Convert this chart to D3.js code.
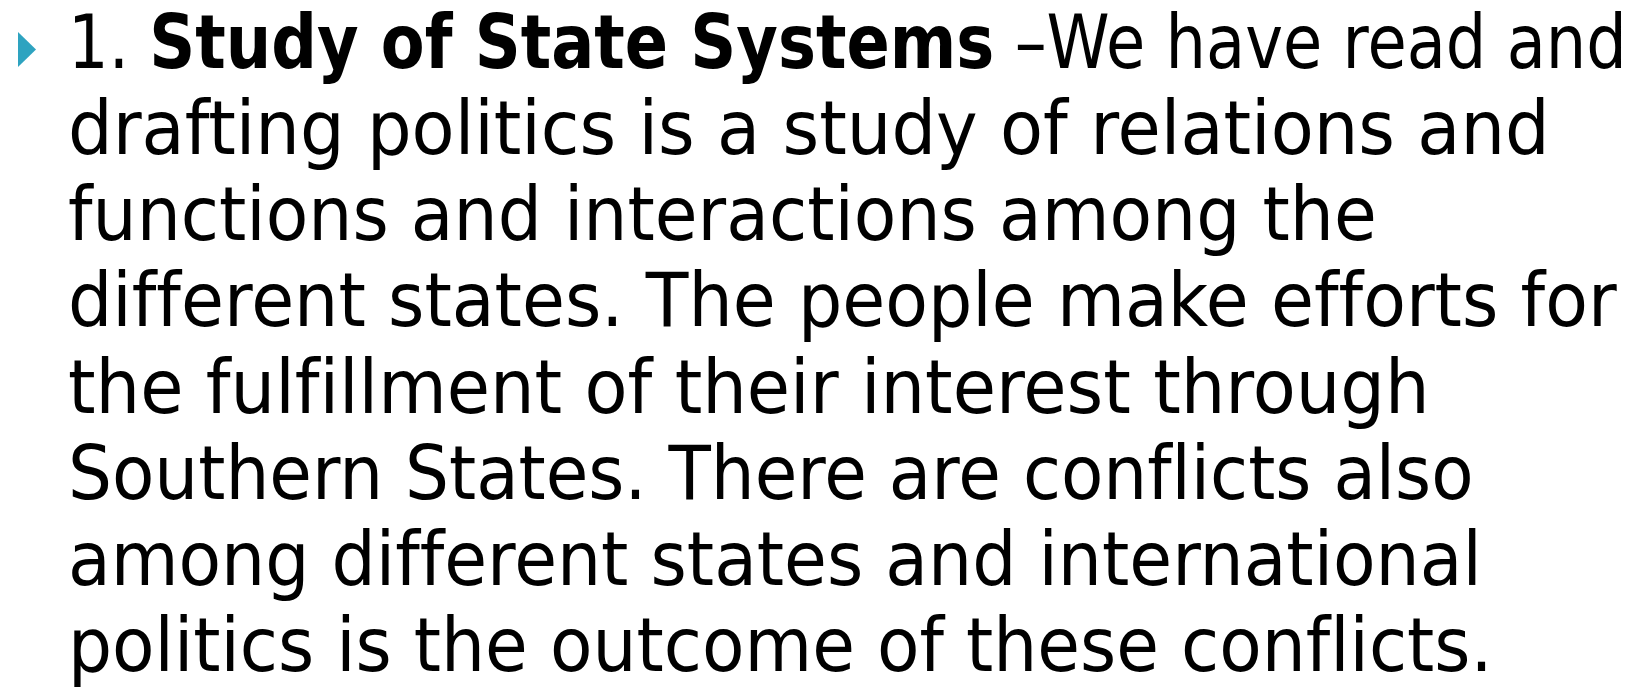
<!DOCTYPE html>
<html><head><meta charset="utf-8">
<script src="https://cdn.jsdelivr.net/npm/d3@7"></script>
<style>html,body{margin:0;padding:0;background:#fff;} text{font-variant-ligatures:none;font-feature-settings:"liga" 0,"clig" 0;}</style>
</head><body>
<script>
// Slide text content
const boldLead = ["1. ", "Study of State Systems", " \u2013We have read and"];
const lines = [
  "drafting politics is a study of relations and",
  "functions and interactions among the",
  "different states. The people make efforts for",
  "the fulfillment of their interest through",
  "Southern States. There are conflicts also",
  "among different states and international",
  "politics is the outcome of these conflicts."
];
// measured right edges of each line (px)
const lineEnds = [1627, 1550, 1377, 1617, 1430, 1474, 1482, 1493];

const W = 1640, H = 688;
const svg = d3.select("body").append("svg").attr("width", W).attr("height", H);
const y = d3.scaleLinear().domain([0, 7]).range([68, 671]);
const left = 68;
const font = "'DejaVu Sans', sans-serif";
const fs = 74;

// bullet
svg.append("path")
  .attr("d", `M18,32 L36,49.5 L18,67 Z`)
  .attr("fill", "#2ea3c0");

function fit(sel, target) {
  const w = sel.node().getComputedTextLength();
  const sx = target / w;
  sel.attr("transform", `translate(${left},${sel.attr("data-y")}) scale(${sx},1)`);
}

const t0 = svg.append("text")
  .attr("x", 0).attr("y", 0).attr("data-y", y(0))
  .attr("font-family", font).attr("font-size", fs).attr("fill", "#000");
boldLead.forEach((s, i) => {
  t0.append("tspan").text(s).attr("font-weight", i === 1 ? "bold" : "normal");
});
fit(t0, lineEnds[0] - left);

// split so that an "f" before f/i/l sits in its own run (no ligature)
const parts = s => s.split(/(f(?=[fil]))/).filter(p => p.length);

svg.selectAll("text.line").data(lines).enter().append("text")
  .attr("class", "line")
  .attr("x", 0).attr("y", 0)
  .attr("data-y", (d, i) => y(i + 1))
  .attr("font-family", font).attr("font-size", fs).attr("fill", "#000")
  .each(function(d, i) {
    const t = d3.select(this);
    parts(d).forEach(p => {
      t.append("tspan").text(p).attr("font-size", p === "f" ? fs + 0.01 : fs);
    });
    fit(t, lineEnds[i + 1] - left);
  });
</script>
</body></html>
